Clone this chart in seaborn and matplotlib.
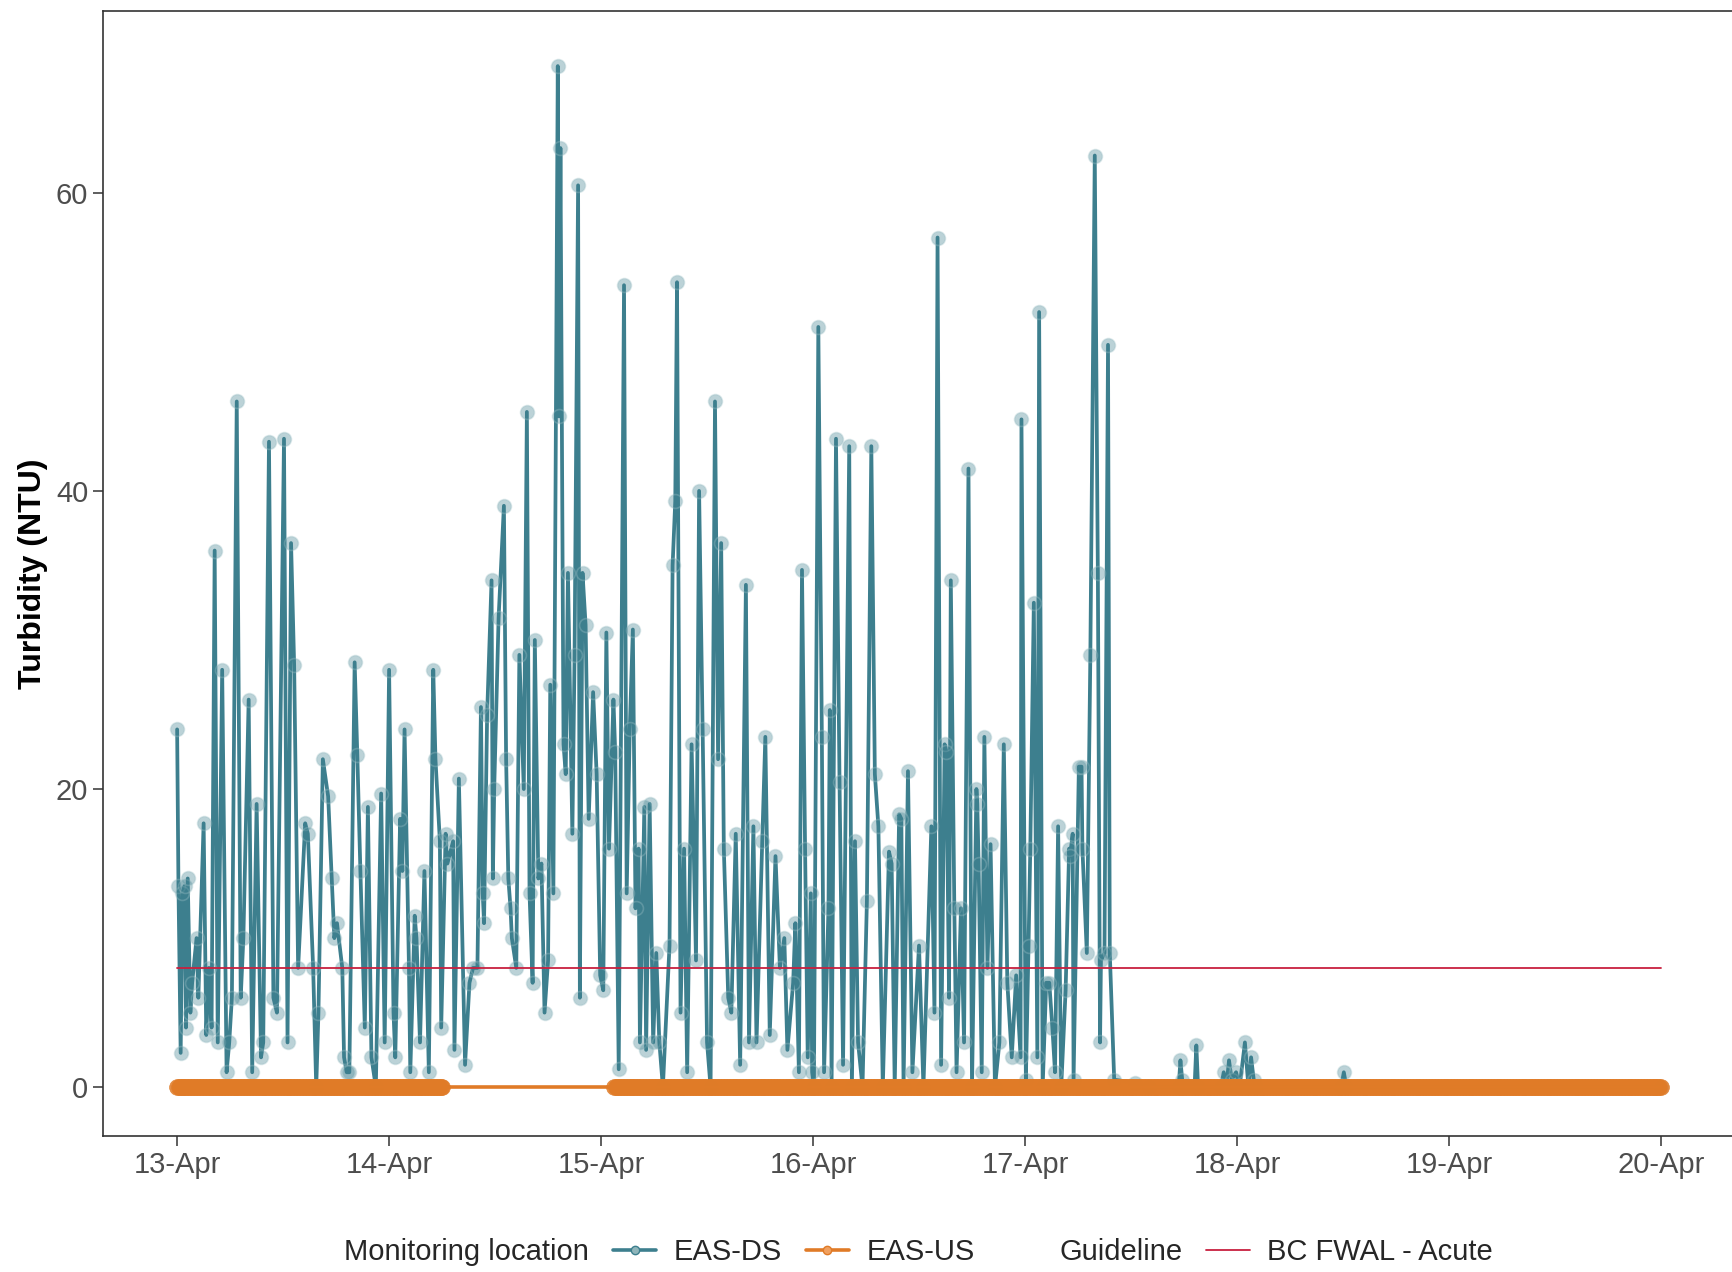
import numpy as np
import pandas as pd
import matplotlib
matplotlib.use('Agg')
import matplotlib.pyplot as plt
import matplotlib.dates as mdates
from matplotlib.lines import Line2D
import seaborn as sns

# Turbidity readings, hours since 13-Apr 00:00
ds_hours = [
    # 13-Apr
    0.0, 0.15, 0.4, 0.6, 0.85, 1.0, 1.2, 1.5, 1.7, 2.2, 2.4, 3.0, 3.3, 3.6, 3.9,
    4.25, 4.6, 5.1, 5.6, 5.9, 6.2, 6.75, 7.2, 7.5, 8.1, 8.5, 9.0, 9.5, 9.75,
    10.4, 10.9, 11.3, 12.1, 12.5, 12.9, 13.25, 13.7, 14.5, 14.8, 15.4, 15.75,
    16.0, 16.5, 17.1, 17.5, 17.8, 18.1, 18.7, 18.9, 19.2, 19.5, 20.1, 20.4,
    20.75, 21.25, 21.6, 22.0, 22.5, 23.1, 23.5,
    # 14-Apr
    24.0, 24.5, 24.7, 25.25, 25.5, 25.75, 26.25, 26.4, 26.9, 27.1, 27.5, 28.0,
    28.5, 29.0, 29.25, 29.75, 29.9, 30.4, 30.6, 31.25, 31.4, 31.9, 32.6, 33.1,
    33.5, 34.0, 34.4, 34.6, 34.75, 35.1, 35.6, 35.75, 35.9, 36.4, 37.0, 37.25,
    37.5, 37.75, 37.9, 38.4, 38.75, 39.25, 39.6, 39.9, 40.25, 40.5, 40.9, 41.25,
    41.6, 42.0, 42.25, 42.6, 43.1, 43.25, 43.4, 43.75, 44.0, 44.25, 44.75, 45.0,
    45.4, 45.6, 45.9, 46.25, 46.6, 47.1, 47.5, 47.9,
    # 15-Apr
    48.25, 48.6, 48.9, 49.4, 49.6, 50.0, 50.6, 50.9, 51.25, 51.6, 51.9, 52.25,
    52.4, 52.9, 53.1, 53.5, 53.9, 54.25, 54.6, 55.0, 55.75, 56.1, 56.4, 56.6,
    57.0, 57.4, 57.75, 58.25, 58.75, 59.1, 59.5, 60.0, 60.4, 60.9, 61.25, 61.6,
    61.9, 62.4, 62.75, 63.25, 63.75, 64.4, 64.75, 65.25, 65.6, 66.25, 66.6,
    67.1, 67.75, 68.25, 68.75, 69.1, 69.75, 70.0, 70.4, 70.75, 71.1, 71.4,
    71.75, 71.9,
    # 16-Apr
    72.1, 72.6, 73.0, 73.25, 73.75, 73.9, 74.1, 74.6, 75.0, 75.4, 76.1, 76.4,
    76.75, 77.1, 77.6, 78.1, 78.6, 79.0, 79.4, 79.9, 80.6, 80.9, 81.25, 81.75,
    82.0, 82.25, 82.75, 83.25, 84.0, 84.5, 85.4, 85.75, 86.1, 86.5, 86.9, 87.1,
    87.4, 87.6, 88.0, 88.25, 88.75, 89.1, 89.6, 90.0, 90.5, 90.6, 90.75, 91.1,
    91.4, 91.75, 92.1, 92.6, 93.1, 93.6, 94.0, 94.5, 95.0, 95.5, 95.6,
    # 17-Apr
    96.1, 96.4, 96.6, 97.0, 97.4, 97.6, 98.0, 98.4, 98.75, 99.1, 99.4, 99.75,
    100.1, 100.6, 101.0, 101.1, 101.4, 101.5, 102.1, 102.4, 102.5, 103.0, 103.4,
    103.9, 104.25, 104.5, 104.6, 105.0, 105.4, 105.6, 106.1,
    # low tail
    108.4, 110.0, 113.4, 113.6, 113.8, 114.0, 115.2, 115.4, 115.6,
    118.2, 118.5, 118.8, 119.1, 119.4, 119.9, 120.3, 120.9, 121.3, 121.6, 121.9,
    122.2, 131.8, 132.1, 132.4, 168.0,
]
ds_ntu = [
    # 13-Apr
    24, 13.5, 2.3, 13, 13.5, 4, 14, 5, 7, 10, 6, 17.7, 3.5, 8, 4,
    36, 3, 28, 1, 3, 6, 46, 6, 10, 26, 1, 19, 2, 3,
    43.3, 6, 5, 43.5, 3, 36.5, 28.3, 8, 17.7, 17, 8, 0,
    5, 22, 19.5, 14, 10, 11, 8, 2, 1, 1, 28.5, 22.3,
    14.5, 4, 18.8, 2, 0, 19.7, 3,
    # 14-Apr
    28, 5, 2, 18, 14.5, 24, 8, 1, 11.5, 10, 3, 14.5,
    1, 28, 22, 16.5, 4, 17, 15, 16.5, 2.5, 20.7, 1.5, 7,
    8, 8, 25.5, 13, 11, 25, 34, 14, 20, 31.5, 39, 22,
    14, 12, 10, 8, 29, 20, 45.3, 13, 7, 30, 14, 15,
    5, 8.5, 27, 13, 68.5, 45, 63, 23, 21, 34.5, 17, 29,
    60.5, 6, 34.5, 31, 18, 26.5, 21, 7.5,
    # 15-Apr
    6.5, 30.5, 16, 26, 22.5, 1.2, 53.8, 13, 24, 30.7, 12, 16,
    3, 18.8, 2.5, 19, 3, 9, 3, 0, 9.5, 35, 39.3, 54,
    5, 16, 1, 23, 8.5, 40, 24, 3, 0, 46, 22, 36.5,
    16, 6, 5, 17, 1.5, 33.7, 3, 17.5, 3, 16.5, 23.5,
    3.5, 15.5, 8, 10, 2.5, 7, 11, 1, 34.7, 16, 2,
    13, 1,
    # 16-Apr
    0, 51, 23.5, 1, 12, 25.3, 0, 43.5, 20.5, 1.5, 43, 0,
    16.5, 3, 0, 12.5, 43, 21, 17.5, 0, 15.8, 15, 0, 18.3,
    18, 0, 21.2, 1, 9.5, 0, 17.5, 5, 57, 1.5, 23, 22.5,
    6, 34, 12, 1, 12, 3, 41.5, 0, 20, 19, 15, 1,
    23.5, 8, 16.3, 0, 3, 23, 7, 2, 7.5, 2, 44.8,
    # 17-Apr
    0.5, 9.5, 16, 32.5, 2, 52, 0, 7, 7, 4, 1, 17.5,
    0, 6.5, 16, 15.5, 17, 0.5, 21.5, 21.5, 16, 9, 29,
    62.5, 34.5, 3, 8.5, 9, 49.8, 9, 0.5,
    # low tail
    0.3, 0, 0, 1.8, 0.5, 0, 0, 2.8, 0,
    0, 1.0, 0, 1.8, 0.5, 1.0, 0, 3.0, 0, 2.0, 0.5,
    0, 0, 1.0, 0, 0,
]

# Upstream station: flat at 0 NTU, logged every 10 min, with a gap
us_periods = [(0.0, 30.0), (49.5, 168.0)]
us_step_hours = 10 / 60

guideline_ntu = 8
guideline_span = (0.0, 168.0)

start = pd.Timestamp('2023-04-13')

ds = pd.DataFrame({'time': start + pd.to_timedelta(ds_hours, unit='h'),
                   'ntu': ds_ntu, 'location': 'EAS-DS'})
us_hours = np.concatenate([np.arange(a, b + 1e-9, us_step_hours) for a, b in us_periods])
us = pd.DataFrame({'time': start + pd.to_timedelta(us_hours, unit='h'),
                   'ntu': 0.0, 'location': 'EAS-US'})
guide = pd.DataFrame({'time': start + pd.to_timedelta(list(guideline_span), unit='h'),
                      'ntu': [guideline_ntu] * 2})

teal = '#3D7F8E'
orange = '#E07B27'
red = '#C8203F'

sns.set_style('ticks')
plt.rcParams['font.family'] = ['Liberation Sans', 'DejaVu Sans']

fig = plt.figure(figsize=(17.33, 12.72), dpi=100)
ax = fig.add_axes([0.0594, 0.107, 0.9418, 0.8844])

sns.lineplot(data=ds, x='time', y='ntu', color=teal, linewidth=2.7, ax=ax, zorder=2)
sns.scatterplot(data=ds, x='time', y='ntu', color=teal, alpha=0.35, s=100,
                edgecolor='#9CC0C5', linewidth=1.2, ax=ax, zorder=3)
sns.lineplot(data=guide, x='time', y='ntu', color=red, linewidth=1.3, ax=ax, zorder=4)
sns.lineplot(data=us, x='time', y='ntu', color=orange, linewidth=2.6, ax=ax, zorder=5)
sns.scatterplot(data=us, x='time', y='ntu', color=orange, alpha=0.85, s=130,
                edgecolor=orange, linewidth=0.5, ax=ax, zorder=6)

x0 = start - pd.Timedelta(hours=0.35 * 24)
x1 = start + pd.Timedelta(days=7) + pd.Timedelta(hours=0.35 * 24)
ax.set_xlim(x0, x1)
ax.set_ylim(-3.27, 72.2)
ax.set_yticks([0, 20, 40, 60])
ax.xaxis.set_major_locator(mdates.DayLocator())
ax.xaxis.set_major_formatter(mdates.DateFormatter('%d-%b'))

ax.set_xlabel('')
ax.set_ylabel('Turbidity (NTU)', fontsize=23, fontweight='bold', color='black', labelpad=6)
ax.tick_params(axis='both', labelsize=21, labelcolor='#4D4D4D', color='#333333',
               length=7, width=1.1, direction='out')
ax.tick_params(axis='x', pad=4)
for sp in ax.spines.values():
    sp.set_visible(True)
    sp.set_color('#333333')
    sp.set_linewidth(1.2)
ax.grid(False)

blank = Line2D([], [], alpha=0)
handles = [
    blank,
    Line2D([], [], color=teal, lw=2.6, marker='o', ms=6, mfc='#8FB5BA', mec=teal),
    Line2D([], [], color=orange, lw=2.6, marker='o', ms=6, mfc='#F0A060', mec=orange),
    blank,
    Line2D([], [], color=red, lw=1.3),
]
labels = ['Monitoring location', 'EAS-DS', 'EAS-US', 'Guideline', 'BC FWAL - Acute']
fig.legend(handles, labels, loc='center', bbox_to_anchor=(0.5125, 0.0157), ncol=5,
           frameon=False, fontsize=21, handlelength=1.5, handletextpad=0.6,
           columnspacing=0.8)

fig.savefig('out.png', dpi=100)
